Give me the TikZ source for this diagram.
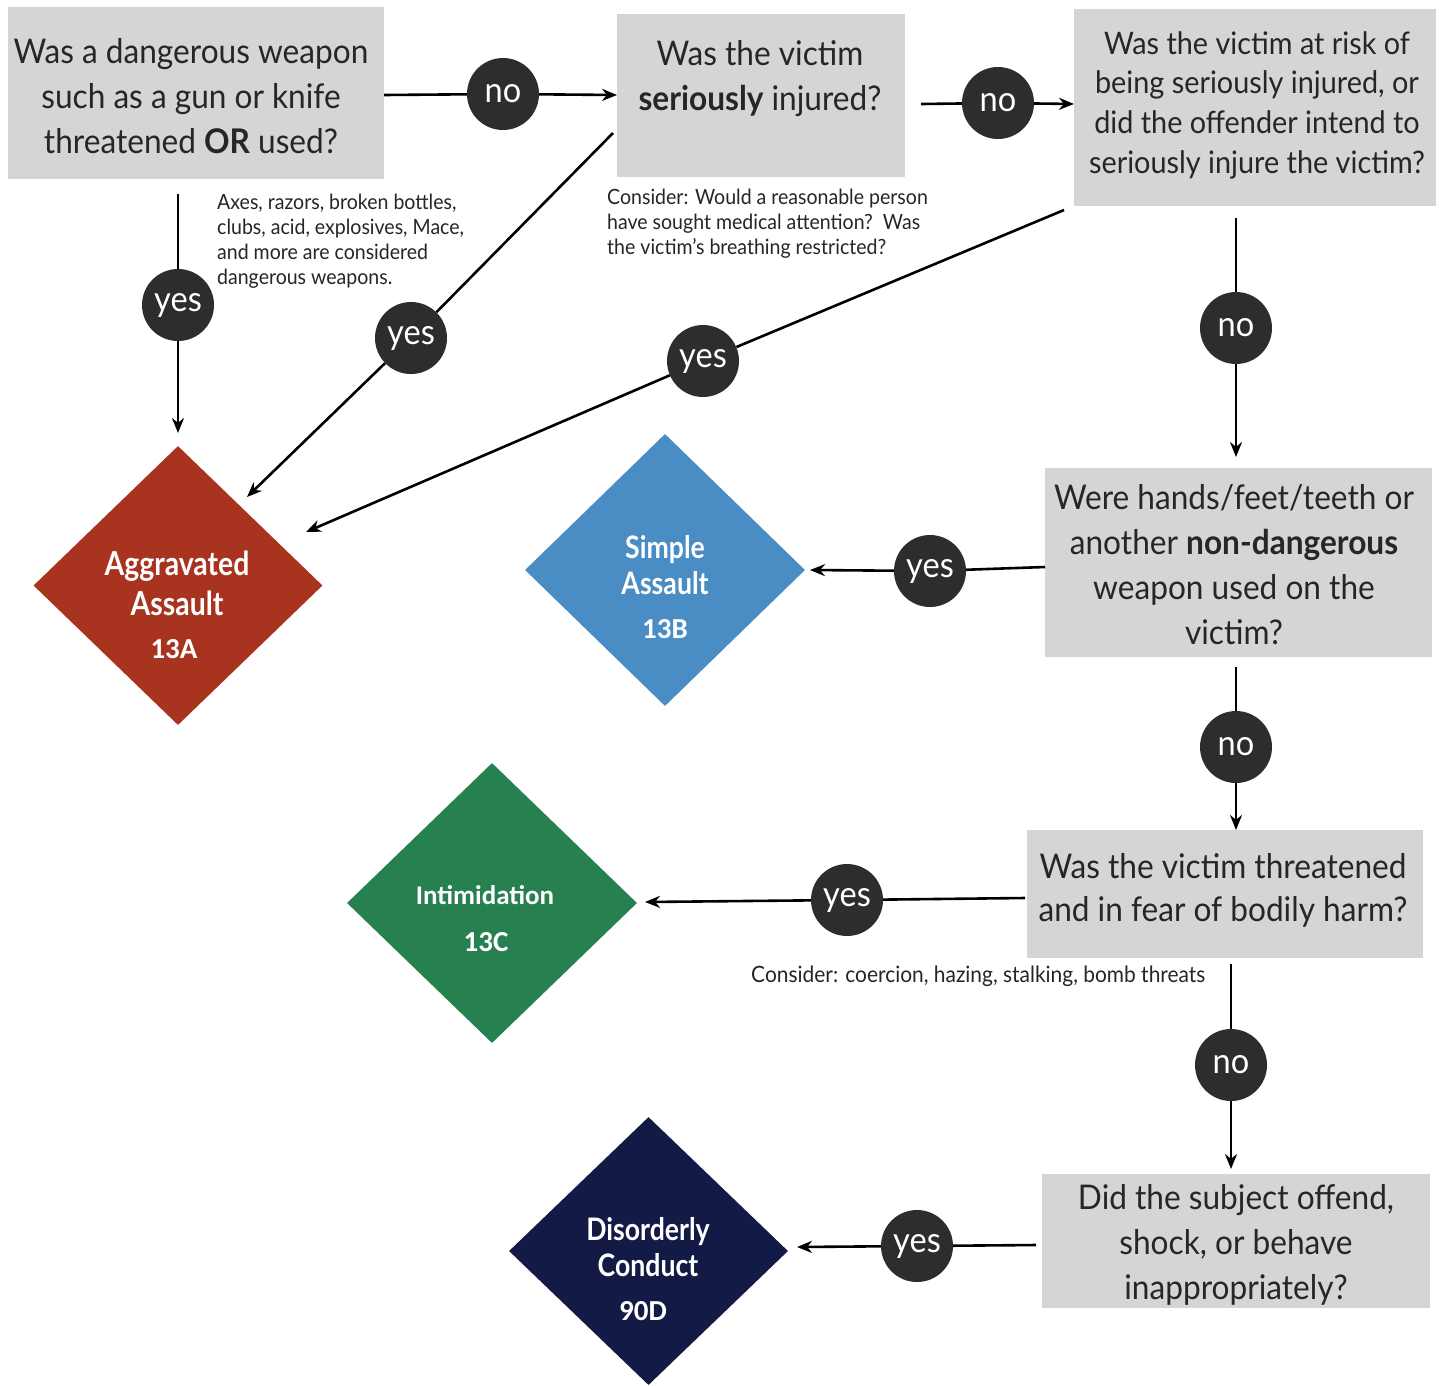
\documentclass[tikz,border=0pt]{standalone}
\usepackage{fontspec}
\setmainfont{Lato}[FakeStretch=0.93]
\newfontfamily\dfont{Lato}[FakeStretch=0.86]
\newfontfamily\cfont{Carlito}
\usetikzlibrary{arrows.meta,shapes.geometric}
\definecolor{qgrey}{RGB}{212,213,214}
\definecolor{qtext}{RGB}{38,38,38}
\definecolor{cdark}{RGB}{45,45,45}
\definecolor{aggred}{RGB}{168,52,32}
\definecolor{simpblue}{RGB}{74,140,196}
\definecolor{intgreen}{RGB}{38,128,80}
\definecolor{disnavy}{RGB}{20,26,70}
\tikzset{
  qbox/.style={rectangle, fill=qgrey, draw=none, inner sep=0pt},
  qtxt/.style={text=qtext, align=center, inner sep=0pt, font=\fontsize{34}{45}\selectfont},
  note/.style={text=qtext, align=left, inner sep=0pt, anchor=west, font=\fontsize{21}{25}\selectfont},
  circ/.style={circle, fill=cdark, draw=none, minimum size=72pt, inner sep=0pt, text=white, font=\fontsize{35}{35}\selectfont},
  dia/.style={diamond, draw=none, inner sep=0pt, aspect=1},
  dtitle/.style={text=white, align=center, inner sep=0pt, font=\dfont\bfseries\fontsize{33}{40}\selectfont},
  dcode/.style={text=white, inner sep=0pt, font=\cfont\bfseries\fontsize{29}{29}\selectfont},
  conn/.style={draw=black, line width=2.6pt},
  arr/.style={conn, -{Stealth[length=15pt,width=12pt]}}
}
\begin{document}
\begin{tikzpicture}[x=1pt,y=-1pt]
\useasboundingbox (0,0) rectangle (1439,1385);
\fill[white] (0,0) rectangle (1439,1385);

% question boxes
\node[qbox, minimum width=376pt, minimum height=172pt] (b1) at (196,93) {};
\node[qtxt] (t1) at (191,96) {Was a dangerous weapon\\such as a gun or knife\\threatened \textbf{OR} used?};
\node[qbox, minimum width=288pt, minimum height=163pt] (b2) at (761,95.5) {};
\node[qtxt] (t2) at (760,79) {Was the victim\\\textbf{seriously} injured?};
\node[qbox, minimum width=362pt, minimum height=197pt] (b3) at (1255,107.5) {};
\node[qtxt, font=\fontsize{31}{39.7}\selectfont] (t3) at (1257,105) {Was the victim at risk of\\being seriously injured, or\\did the offender intend to\\seriously injure the victim?};
\node[qbox, minimum width=387pt, minimum height=189pt] (b4) at (1238.5,562.5) {};
\node[qtxt] (t4) at (1234,565) {Were hands/feet/teeth or\\another \textbf{non-dangerous}\\weapon used on the\\victim?};
\node[qbox, minimum width=396pt, minimum height=128pt] (b5) at (1225,894) {};
\node[qtxt, font=\fontsize{34}{43}\selectfont] (t5) at (1223,890) {Was the victim threatened\\and in fear of bodily harm?};
\node[qbox, minimum width=388pt, minimum height=134pt] (b6) at (1236,1241) {};
\node[qtxt] (t6) at (1236,1245) {Did the subject offend,\\shock, or behave\\inappropriately?};

% notes
\node[note] (n1) at (217,241) {Axes, razors, broken bottles,\\clubs, acid, explosives, Mace,\\and more are considered\\dangerous weapons.};
\node[note] (n2) at (607,224) {Consider: Would a reasonable person\\have sought medical attention?\ \ Was\\the victim's breathing restricted?};
\node[note, font=\fontsize{22.5}{25}\selectfont] (n3) at (751,976) {Consider: coercion, hazing, stalking, bomb threats};

% outcome diamonds
\node[dia, fill=aggred, minimum width=289pt, minimum height=279pt] (d1) at (178,585.5) {};
\node[dtitle] (d1t) at (177,583) {Aggravated\\Assault};
\node[dcode] (d1c) at (174,649) {13A};
\node[dia, fill=simpblue, minimum width=280pt, minimum height=272pt] (d2) at (665,570) {};
\node[dtitle, font=\dfont\bfseries\fontsize{31}{36}\selectfont] (d2t) at (665,565) {Simple\\Assault};
\node[dcode] (d2c) at (665,629) {13B};
\node[dia, fill=intgreen, minimum width=290pt, minimum height=280pt] (d3) at (492,903) {};
\node[dcode, font=\cfont\bfseries\fontsize{27}{27}\selectfont] (d3t) at (485,895) {Intimidation};
\node[dcode] (d3c) at (486,942) {13C};
\node[dia, fill=disnavy, minimum width=279pt, minimum height=268pt] (d4) at (648.5,1251) {};
\node[dtitle, font=\dfont\bfseries\fontsize{31}{36}\selectfont] (d4t) at (648,1247) {Disorderly\\Conduct};
\node[dcode] (d4c) at (643,1311) {90D};

% decision circles
\node[circ] (c1) at (503,94) {no};
\node[circ] (c2) at (998,103) {no};
\node[circ] (c3) at (178,305) {yes};
\node[circ] (c4) at (411,338) {yes};
\node[circ] (c5) at (703,361) {yes};
\node[circ] (c6) at (1236,328) {no};
\node[circ] (c7) at (930,571) {yes};
\node[circ] (c8) at (1236,747) {no};
\node[circ] (c9) at (847,900) {yes};
\node[circ] (c10) at (1231,1065) {no};
\node[circ] (c11) at (917,1246) {yes};

% connector end points
\coordinate (s1) at (384,95);   \coordinate (e1) at (617,95);
\coordinate (s2) at (921,104);  \coordinate (e2) at (1074,104);
\coordinate (s3) at (178,194);  \coordinate (e3) at (178,433);
\coordinate (s4) at (613,133);  \coordinate (e4) at (247,497);
\coordinate (s5) at (1064,210); \coordinate (e5) at (306,532);
\coordinate (s6) at (1236,218); \coordinate (e6) at (1236,457);
\coordinate (s7) at (1045,567); \coordinate (e7) at (810,570);
\coordinate (s8) at (1236,667); \coordinate (e8) at (1236,830);
\coordinate (s9) at (1025,898); \coordinate (e9) at (645,902);
\coordinate (s10) at (1231,964); \coordinate (e10) at (1231,1169);
\coordinate (s11) at (1036,1245); \coordinate (e11) at (797,1247);

\foreach \i in {1,...,11}{
  \draw[conn] (s\i) -- (c\i);
  \draw[arr] (c\i) -- (e\i);
}
\end{tikzpicture}
\end{document}
